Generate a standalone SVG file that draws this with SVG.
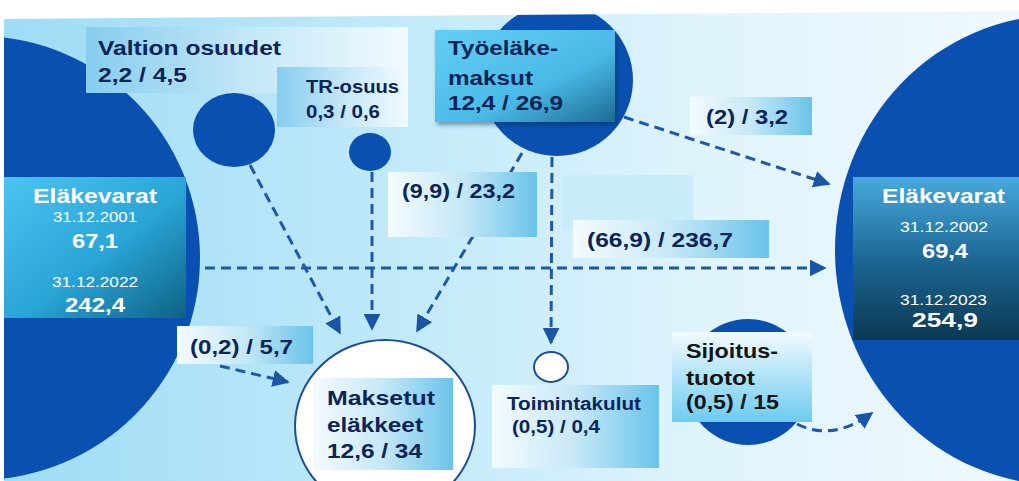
<svg xmlns="http://www.w3.org/2000/svg" width="1019" height="481" viewBox="0 0 1019 481">
<defs>
<style>
.lb{font-family:"Liberation Sans",Arial,sans-serif;font-weight:bold;fill:#0c2456}
.wt{font-family:"Liberation Sans",Arial,sans-serif;fill:#ffffff}
.blue{fill:#0a50b1}
.dash{fill:none;stroke:#1e58a6;stroke-width:3;stroke-dasharray:10 6}
</style>
<linearGradient id="bg" x1="0" y1="0" x2="1" y2="0">
<stop offset="0" stop-color="#9edcf5"/>
<stop offset="0.35" stop-color="#bde8f9"/>
<stop offset="0.7" stop-color="#e0f4fc"/>
<stop offset="1" stop-color="#eff9fd"/>
</linearGradient>
<linearGradient id="wb" x1="0" y1="0" x2="1" y2="0">
<stop offset="0" stop-color="#f4fbfe"/>
<stop offset="0.5" stop-color="#c6e8f7"/>
<stop offset="1" stop-color="#6ac3ea"/>
</linearGradient>
<linearGradient id="bw" x1="0" y1="0" x2="1" y2="0">
<stop offset="0" stop-color="#86cdee"/>
<stop offset="0.5" stop-color="#c3e7f7"/>
<stop offset="1" stop-color="#f2fafe"/>
</linearGradient>
<linearGradient id="vw" x1="0" y1="0" x2="0" y2="1">
<stop offset="0" stop-color="#f2fbfe"/>
<stop offset="1" stop-color="#6ccbf2"/>
</linearGradient>
<linearGradient id="tyo" x1="0" y1="0" x2="1" y2="1">
<stop offset="0" stop-color="#62cff5"/>
<stop offset="0.6" stop-color="#4ab9e7"/>
<stop offset="1" stop-color="#1b6c92"/>
</linearGradient>
<linearGradient id="lek" x1="0" y1="0" x2="1" y2="1">
<stop offset="0" stop-color="#4cc4f0"/>
<stop offset="0.55" stop-color="#29a4d6"/>
<stop offset="1" stop-color="#0f6283"/>
</linearGradient>
<linearGradient id="rek" x1="0" y1="0" x2="0" y2="1">
<stop offset="0" stop-color="#47aadd"/>
<stop offset="0.5" stop-color="#1d6894"/>
<stop offset="1" stop-color="#0b3852"/>
</linearGradient>
<clipPath id="panel"><polygon points="4,19 1019,11 1019,481 4,481"/></clipPath>
<filter id="sh" x="-10%" y="-10%" width="130%" height="130%">
<feDropShadow dx="2" dy="3" stdDeviation="2" flood-color="#0a2a50" flood-opacity="0.45"/>
</filter>
<marker id="ah" viewBox="0 0 10 10" refX="9" refY="5" markerWidth="17" markerHeight="17" markerUnits="userSpaceOnUse" orient="auto">
<path d="M0,0 L10,5 L0,10 z" fill="#1a55a6"/>
</marker>
</defs>
<rect x="0" y="0" width="1019" height="481" fill="#ffffff"/>
<polygon points="4,19 1019,11 1019,481 4,481" fill="url(#bg)"/>

<g id="elakevarat-2001" clip-path="url(#panel)">
<circle class="blue" cx="-22" cy="258" r="222"/>
<rect x="4" y="177" width="182" height="141" fill="url(#lek)"/>
<text class="wt" font-weight="bold" font-size="21" x="33" y="203" textLength="124" lengthAdjust="spacingAndGlyphs">Eläkevarat</text>
<text class="wt" font-size="15" x="53" y="222" textLength="84" lengthAdjust="spacingAndGlyphs">31.12.2001</text>
<text class="wt" font-weight="bold" font-size="20" x="72" y="248" textLength="46" lengthAdjust="spacingAndGlyphs">67,1</text>
<text class="wt" font-size="15" x="52" y="287" textLength="86" lengthAdjust="spacingAndGlyphs">31.12.2022</text>
<text class="wt" font-weight="bold" font-size="20" x="65" y="312" textLength="60" lengthAdjust="spacingAndGlyphs">242,4</text>
</g>

<g id="elakevarat-2002" clip-path="url(#panel)">
<ellipse class="blue" cx="1060" cy="250" rx="225" ry="235"/>
<rect x="853" y="177" width="166" height="163" fill="url(#rek)"/>
<text class="wt" font-weight="bold" font-size="21" x="882" y="203" textLength="123" lengthAdjust="spacingAndGlyphs">Eläkevarat</text>
<text class="wt" font-size="15" x="900" y="232" textLength="88" lengthAdjust="spacingAndGlyphs">31.12.2002</text>
<text class="wt" font-weight="bold" font-size="20" x="922" y="258" textLength="46" lengthAdjust="spacingAndGlyphs">69,4</text>
<text class="wt" font-size="15" x="900" y="305" textLength="87" lengthAdjust="spacingAndGlyphs">31.12.2023</text>
<text class="wt" font-weight="bold" font-size="20" x="912" y="327" textLength="66" lengthAdjust="spacingAndGlyphs">254,9</text>
</g>

<g id="connectors">
<line class="dash" x1="250" y1="165" x2="340" y2="333" marker-end="url(#ah)"/>
<line class="dash" x1="372" y1="172" x2="372" y2="329" marker-end="url(#ah)"/>
<line class="dash" x1="522" y1="153" x2="417" y2="331" marker-end="url(#ah)"/>
<line class="dash" x1="552" y1="157" x2="551" y2="343" marker-end="url(#ah)"/>
<line class="dash" x1="624" y1="117" x2="829" y2="184" marker-end="url(#ah)"/>
<line class="dash" x1="205" y1="268" x2="825" y2="268" marker-end="url(#ah)"/>
<line class="dash" x1="220" y1="366" x2="288" y2="382" marker-end="url(#ah)"/>
<path class="dash" d="M797,424 Q832,442 872,413" marker-end="url(#ah)"/>
</g>

<g id="valtion-osuudet">
<ellipse class="blue" cx="234" cy="130" rx="41" ry="37"/>
<rect x="86" y="27" width="322" height="66" fill="url(#bw)"/>
<text class="lb" font-size="20" x="98" y="55" textLength="183" lengthAdjust="spacingAndGlyphs">Valtion osuudet</text>
<text class="lb" font-size="20" x="98" y="82" textLength="89" lengthAdjust="spacingAndGlyphs">2,2 / 4,5</text>
</g>

<g id="tr-osuus">
<ellipse class="blue" cx="370" cy="152" rx="21" ry="19"/>
<rect x="277" y="67" width="131" height="60" fill="url(#bw)"/>
<text class="lb" font-size="18" x="306" y="93" textLength="93" lengthAdjust="spacingAndGlyphs">TR-osuus</text>
<text class="lb" font-size="18" x="306" y="118" textLength="74" lengthAdjust="spacingAndGlyphs">0,3 / 0,6</text>
</g>

<g id="tyoelakemaksut">
<circle class="blue" cx="557" cy="80" r="76" clip-path="url(#panel)"/>
<rect x="435" y="30" width="180" height="92" fill="url(#tyo)" filter="url(#sh)"/>
<text class="lb" font-size="20" x="448" y="55" textLength="110" lengthAdjust="spacingAndGlyphs">Työeläke-</text>
<text class="lb" font-size="20" x="448" y="85" textLength="85" lengthAdjust="spacingAndGlyphs">maksut</text>
<text class="lb" font-size="20" x="448" y="110" textLength="115" lengthAdjust="spacingAndGlyphs">12,4 / 26,9</text>
</g>

<g id="maksetut-elakkeet">
<ellipse cx="385" cy="426" rx="90" ry="86" fill="#ffffff" stroke="#1d4e96" stroke-width="2"/>
<rect x="313" y="378" width="140" height="92" fill="url(#wb)"/>
<text class="lb" font-size="21" x="327" y="405" textLength="108" lengthAdjust="spacingAndGlyphs">Maksetut</text>
<text class="lb" font-size="21" x="327" y="432" textLength="96" lengthAdjust="spacingAndGlyphs">eläkkeet</text>
<text class="lb" font-size="21" x="327" y="458" textLength="95" lengthAdjust="spacingAndGlyphs">12,6 / 34</text>
</g>

<g id="toimintakulut">
<ellipse cx="551" cy="367" rx="17" ry="15" fill="#ffffff" stroke="#1d4e96" stroke-width="2"/>
<rect x="492" y="385" width="167" height="83" fill="url(#wb)"/>
<text class="lb" font-size="18" x="507" y="410" textLength="134" lengthAdjust="spacingAndGlyphs">Toimintakulut</text>
<text class="lb" font-size="18" x="512" y="433" textLength="88" lengthAdjust="spacingAndGlyphs">(0,5) / 0,4</text>
</g>

<g id="sijoitustuotot">
<circle class="blue" cx="748" cy="382" r="63"/>
<rect x="672" y="332" width="140" height="90" fill="url(#vw)"/>
<text class="lb" style="fill:#141414" font-size="20" x="686" y="358" textLength="92" lengthAdjust="spacingAndGlyphs">Sijoitus-</text>
<text class="lb" style="fill:#141414" font-size="20" x="686" y="385" textLength="69" lengthAdjust="spacingAndGlyphs">tuotot</text>
<text class="lb" style="fill:#141414" font-size="20" x="686" y="409" textLength="93" lengthAdjust="spacingAndGlyphs">(0,5) / 15</text>
</g>

<g id="edge-labels">
<rect x="562" y="175" width="131" height="55" fill="#c8edf9"/>
<rect x="690" y="97" width="122" height="38" fill="url(#wb)"/>
<text class="lb" font-size="20" x="706" y="124" textLength="82" lengthAdjust="spacingAndGlyphs">(2) / 3,2</text>
<rect x="388" y="172" width="149" height="65" fill="url(#wb)"/>
<text class="lb" font-size="20" x="402" y="198" textLength="113" lengthAdjust="spacingAndGlyphs">(9,9) / 23,2</text>
<rect x="573" y="220" width="196" height="38" fill="url(#wb)"/>
<text class="lb" font-size="21" x="587" y="247" textLength="146" lengthAdjust="spacingAndGlyphs">(66,9) / 236,7</text>
<rect x="177" y="326" width="136" height="38" fill="url(#wb)"/>
<text class="lb" font-size="20" x="190" y="354" textLength="103" lengthAdjust="spacingAndGlyphs">(0,2) / 5,7</text>
</g>
</svg>
